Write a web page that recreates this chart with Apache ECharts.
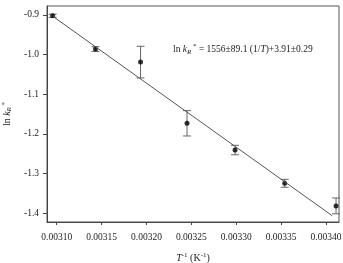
<!DOCTYPE html>
<html><head><meta charset="utf-8">
<script src="https://cdn.jsdelivr.net/npm/echarts@6/dist/echarts.min.js"></script>
<style>html,body{margin:0;padding:0;background:#fff}#c{width:343px;height:263px}</style>
</head><body><div id="c"></div>
<script>
// Data
const xValues = [0.0030955, 0.0031432, 0.0031934, 0.0032452, 0.0032987, 0.003354, 0.0034112];
const yValues = [-0.902, -0.986, -1.019, -1.1735, -1.241, -1.325, -1.382];
const yErrors = [0.004, 0.006, 0.040, 0.032, 0.012, 0.010, 0.020];
const fitX = [0.0030955, 0.003407];
const fitY = [-0.903, -1.407];
const xTicks = [0.00310, 0.00315, 0.00320, 0.00325, 0.00330, 0.00335, 0.00340];
const yTicks = [-1.4, -1.3, -1.2, -1.1, -1.0, -0.9];

const points = xValues.map((x, i) => [x, yValues[i]]);
const errData = xValues.map((x, i) => [x, yValues[i] - yErrors[i], yValues[i] + yErrors[i]]);
const fitData = fitX.map((x, i) => [x, fitY[i]]);

const serif = 'Liberation Serif';
const chart = echarts.init(document.getElementById('c'), null, {renderer: 'canvas'});
chart.setOption({
  animation: false,
  backgroundColor: '#fff',
  textStyle: {fontFamily: serif},
  grid: {left: 47, right: 4, top: 6, bottom: 41, containLabel: false, outerBoundsMode: 'none',
    show: true, borderColor: '#555', borderWidth: 1, backgroundColor: 'transparent'},
  title: {
    left: 168, top: 38,
    text: '{n|ln }{i|k}{sub|R}{sup| *}{n| = 1556±89.1 (1/}{i|T}{n|)+3.91±0.29}',
    textStyle: {
      fontWeight: 'normal',
      rich: {
        n: {fontFamily: serif, fontSize: 9.5, fontWeight: 'normal', color: '#222'},
        i: {fontFamily: serif, fontSize: 9.5, fontWeight: 'normal', fontStyle: 'italic', color: '#222'},
        sub: {fontFamily: serif, fontSize: 7, fontWeight: 'normal', fontStyle: 'italic', color: '#222', padding: [5, 0, 0, 0]},
        sup: {fontFamily: serif, fontSize: 7, fontWeight: 'normal', color: '#222', padding: [0, 0, 6, 0]}
      }
    }
  },
  xAxis: {
    type: 'value', min: 0.0030892, max: 0.0034145,
    splitLine: {show: false},
    axisLine: {lineStyle: {color: '#444'}},
    axisTick: {show: true, length: 3, customValues: xTicks, lineStyle: {color: '#444'}},
    axisLabel: {customValues: xTicks, fontFamily: serif, fontSize: 9.5, color: '#222', margin: 10,
      formatter: v => v.toFixed(5)},
    name: '{i|T}{sup|-1}{n| (K}{sup|-1}{n|)}',
    nameLocation: 'middle', nameGap: 30,
    nameTextStyle: {
      rich: {
        n: {fontFamily: serif, fontSize: 10, color: '#222'},
        i: {fontFamily: serif, fontSize: 10, fontStyle: 'italic', color: '#222'},
        sup: {fontFamily: serif, fontSize: 7, color: '#222', padding: [0, 0, 6, 0]}
      }
    }
  },
  yAxis: {
    type: 'value', min: -1.4227, max: -0.8773,
    splitLine: {show: false},
    axisLine: {show: true, lineStyle: {color: '#444'}},
    axisTick: {show: true, length: 4, customValues: yTicks, lineStyle: {color: '#444'}},
    axisLabel: {customValues: yTicks, fontFamily: serif, fontSize: 9.5, color: '#222', margin: 8,
      formatter: v => v.toFixed(1)},
    name: '{n|ln }{i|k}{sub|R}{sup| *}',
    nameLocation: 'middle', nameGap: 31, nameRotate: 90,
    nameTextStyle: {
      rich: {
        n: {fontFamily: serif, fontSize: 10, color: '#222'},
        i: {fontFamily: serif, fontSize: 10, fontStyle: 'italic', color: '#222'},
        sub: {fontFamily: serif, fontSize: 7, fontStyle: 'italic', color: '#222', padding: [5, 0, 0, 0]},
        sup: {fontFamily: serif, fontSize: 7, color: '#222', padding: [0, 0, 6, 0]}
      }
    }
  },
  series: [
    {
      type: 'line', data: fitData, symbol: 'none', silent: true,
      lineStyle: {color: '#555', width: 1}
    },
    {
      type: 'custom', data: errData, clip: false,
      renderItem: function (params, api) {
        const x = api.value(0);
        const lo = api.coord([x, api.value(1)]);
        const hi = api.coord([x, api.value(2)]);
        const w = 4;
        const st = {stroke: '#666', lineWidth: 1};
        return {type: 'group', children: [
          {type: 'line', shape: {x1: lo[0], y1: lo[1], x2: hi[0], y2: hi[1]}, style: st},
          {type: 'line', shape: {x1: lo[0] - w, y1: lo[1], x2: lo[0] + w, y2: lo[1]}, style: st},
          {type: 'line', shape: {x1: hi[0] - w, y1: hi[1], x2: hi[0] + w, y2: hi[1]}, style: st}
        ]};
      }
    },
    {
      type: 'scatter', data: points, symbol: 'circle', symbolSize: 5,
      itemStyle: {color: '#000'}
    }
  ]
});
</script></body></html>
